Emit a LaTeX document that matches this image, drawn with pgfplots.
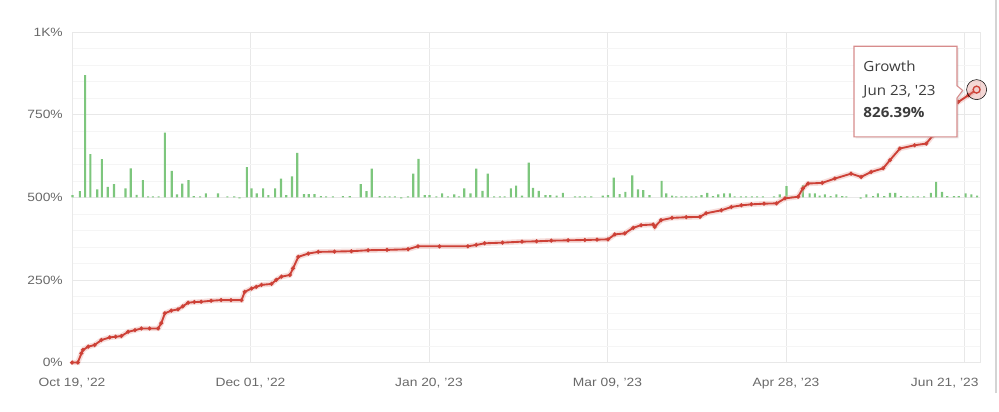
\documentclass[border=0pt]{standalone}
\usepackage{fontspec}
\setmainfont{Liberation Sans}
\newfontfamily\tipfont{Open Sans}
\usepackage{pgfplots}
\usepackage{pgfplotstable}
\pgfplotsset{compat=1.18}
\usetikzlibrary{shadows}

\definecolor{gridc}{RGB}{232,232,232}
\definecolor{minorc}{RGB}{245,245,245}
\definecolor{barg}{RGB}{125,198,125}
\definecolor{liner}{RGB}{205,65,55}
\definecolor{dotr}{RGB}{140,35,30}
\definecolor{labc}{RGB}{105,105,105}
\definecolor{tipb}{RGB}{215,140,140}
\definecolor{tipt}{RGB}{60,60,60}

\pgfplotstableread{
x h
0.1 7
1.5 19
2.5 370
3.5 131
4.8 24
5.7 116
6.8 32
8.0 40
10.2 27
11.2 88
12.3 8
13.5 52
14.5 3
15.4 3
16.5 3
17.7 196
19.0 80
20.0 9
21.0 42
22.2 52
23.2 4
24.4 3
25.5 12
27.8 12
29.6 3
30.9 3
31.9 -3
33.3 92
34.2 27
35.2 12
36.4 27
37.4 7
38.7 27
39.8 57
40.8 7
41.9 64
42.9 135
44.2 10
45.1 10
46.2 10
47.4 4
48.4 3
49.7 3
51.6 4
52.9 4
55.0 40
56.1 19
57.1 87
58.6 4
59.6 3
60.5 3
61.5 3
62.7 -3
64.0 3
65.0 72
66.0 117
67.2 7
68.1 7
69.4 3
70.5 12
71.6 3
72.8 9
73.7 3
74.7 27
75.9 12
77.0 87
78.2 20
79.2 72
80.4 3
81.5 3
82.4 3
83.6 27
84.6 36
85.7 5
87.0 105
87.8 29
88.9 20
90.2 7
91.1 7
92.3 5
93.5 14
95.8 3
96.7 3
97.7 3
98.9 3
101.1 5
102.1 7
103.2 60
104.3 10
105.4 17
106.7 67
107.8 24
108.8 22
110.0 7
112.3 50
113.2 12
114.3 5
115.1 3
116.1 3
117.0 3
118.0 3
118.9 3
119.9 7
121.0 14
122.1 4
123.1 9
124.2 12
125.3 12
126.2 3
127.4 3
128.4 3
129.5 3
130.5 3
131.6 3
133.7 3
134.8 9
136.1 34
137.1 3
138.3 3
139.2 37
140.5 12
141.5 12
142.4 5
143.4 9
144.5 4
145.6 9
146.7 4
147.5 3
150.2 -4
151.3 9
152.6 4
153.5 12
154.7 4
155.8 14
156.8 14
157.9 4
159.1 3
160.2 3
161.1 3
162.3 3
163.6 14
164.6 47
165.7 17
166.7 4
168.0 4
168.9 4
170.2 12
171.3 9
172.4 5
}\bars

\pgfplotstableread{
x y
0.0 0
1.1 0
1.8 28
2.1 38
3.1 48
4.3 53
5.6 68
7.2 76
8.3 78
9.4 80
10.7 93
12.0 98
13.2 103
14.8 103
16.4 103
17.0 119
17.7 149
18.9 157
20.2 161
21.1 170
22.1 181
23.3 183
24.6 184
26.5 187
28.4 189
30.3 189
32.3 189
32.9 214
34.2 224
35.1 229
36.1 235
38.0 238
38.9 250
39.9 260
41.5 265
42.1 285
43.1 320
45.0 330
46.9 335
50.0 336
53.2 337
56.4 340
60.0 341
64.0 343
65.9 352
70.0 352
75.4 352
77.0 356
78.6 361
82.0 363
85.7 366
88.5 367
91.3 369
94.5 370
97.7 371
100.0 372
102.1 373
103.4 388
105.3 391
106.9 408
108.4 416
110.7 418
111.0 411
112.2 431
114.3 438
117.0 440
119.6 441
120.8 452
123.7 461
125.6 471
127.5 476
129.4 479
131.8 481
134.2 482
135.8 497
138.3 502
139.2 527
140.2 542
142.9 544
145.3 557
148.4 572
150.3 562
152.2 577
154.5 588
155.8 613
157.7 648
160.5 658
162.7 663
164.0 688
164.6 714
166.3 760
168.8 789
170.7 809
172.3 826.39
}\growth

\pgfplotsset{
  base/.style={
    scale only axis, width=681pt, height=247.65pt,
    xmin=0, xmax=172.95,
    at={(54pt,36.375pt)}, anchor=south west, clip=false,
  },
}

\begin{document}
\begin{tikzpicture}
\path[use as bounding box] (0pt,0pt) rectangle (749.25pt,308.25pt);
\draw[color={rgb,255:red,212;green,212;blue,212}, line width=1.6pt] (747.2pt,13.5pt) -- (747.2pt,308.25pt);

% grid and tick labels
\begin{axis}[base,
  ymin=0, ymax=1000,
  ytick={0,250,500,750,1000},
  yticklabels={0\%,250\%,500\%,750\%,1K\%},
  xtick={0,34,68,102,136,170},
  xticklabels={{Oct 19, '22},{Dec 01, '22},{Jan 20, '23},{Mar 09, '23},{Apr 28, '23},{\hbox to 0pt{\hss Jun 21, '23\kern-9.1pt}}},
  grid=major, major grid style={draw=gridc, line width=0.6pt},
  minor y tick num=4, yminorgrids=true, minor grid style={draw=minorc, line width=0.5pt},
  axis line style={draw=gridc, line width=0.6pt},
  major tick length=0pt, minor tick length=0pt,
  tick label style={font=\fontsize{9}{10}\selectfont, text=labc, xscale=1.15},
  yticklabel style={xshift=-2.5pt},
  xticklabel style={yshift=-8pt},
  extra y ticks={0}, extra y tick labels={},
  extra y tick style={grid style={draw=black!22, line width=0.8pt}},
]
\end{axis}

% daily bars around the 500% level
\begin{axis}[base, ymin=-500, ymax=500, hide axis]
\addplot[ybar, bar width=1.6pt, bar shift=0pt, fill=barg, draw=none] table[x=x, y=h] {\bars};
\end{axis}

% growth line
\begin{axis}[base, ymin=0, ymax=1000, hide axis]
\addplot[liner!40, line width=4pt, opacity=0.45] table[x=x, y=y] {\growth};
\addplot[liner, line width=1.4pt, mark=*, mark size=0.7pt, mark options={fill=dotr, draw=none}] table[x=x, y=y] {\growth};
\end{axis}

% tooltip and highlighted last point
\begin{axis}[base, ymin=0, ymax=1000, hide axis]
\addplot[only marks, mark=*, mark size=7.5pt, mark options={fill=liner!70, fill opacity=0.3, draw=none}] coordinates {(172.3,826.39)};
\addplot[only marks, mark=*, mark size=2.6pt, mark options={fill=liner!25, draw=liner, line width=1pt}] coordinates {(172.3,826.39)};
\draw[draw=tipb, line width=0.8pt, fill=white, drop shadow={opacity=0.18, shadow xshift=1.2pt, shadow yshift=-1.2pt}]
  (axis cs:148.95,683.3) -- (axis cs:168.57,683.3) -- (axis cs:168.57,801) -- (axis cs:169.65,824) -- (axis cs:168.57,838) -- (axis cs:168.57,957.7) -- (axis cs:148.95,957.7) -- cycle;
\node[anchor=base west, inner sep=0pt, text=tipt, font=\tipfont\fontsize{10.5}{12}\selectfont, xscale=1.08] at (axis cs:150.7,882) {Growth};
\node[anchor=base west, inner sep=0pt, text=tipt, font=\tipfont\fontsize{10.5}{12}\selectfont, xscale=1.08] at (axis cs:150.7,808) {Jun 23, '23};
\node[anchor=base west, inner sep=0pt, text=tipt, font=\tipfont\bfseries\fontsize{10.5}{12}\selectfont, xscale=1.08] at (axis cs:150.7,741.4) {826.39\%};
\end{axis}
\end{tikzpicture}
\end{document}
